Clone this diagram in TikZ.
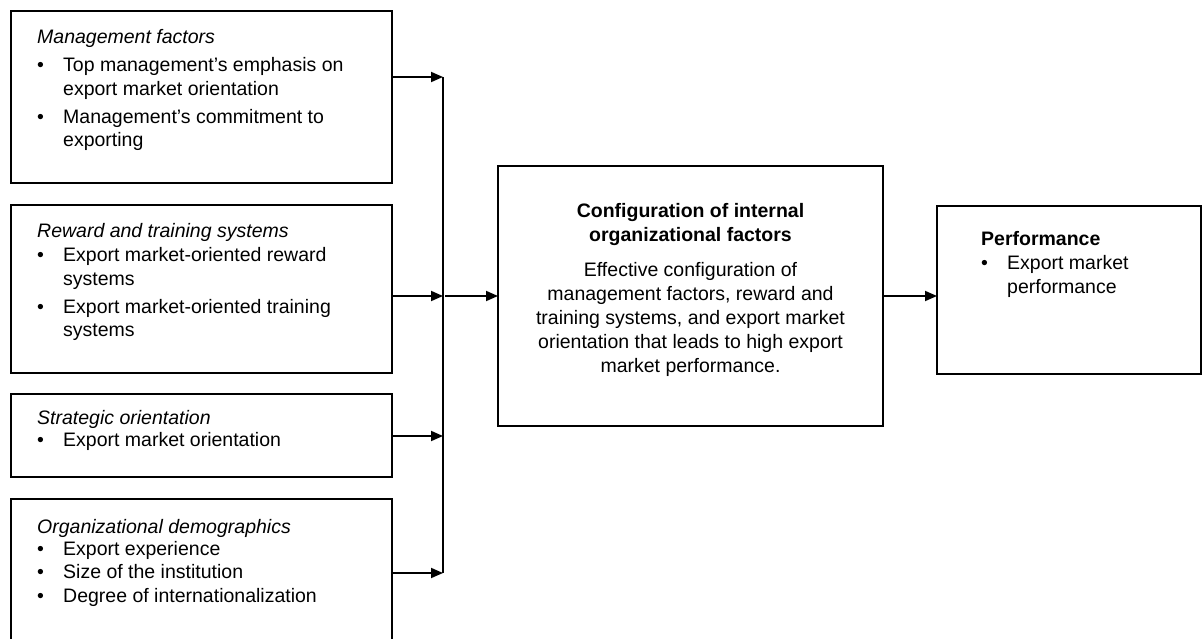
\documentclass[tikz,border=0pt]{standalone}
\usepackage{fontspec}
\setmainfont{Liberation Sans}
\usetikzlibrary{arrows.meta}
\newcommand{\mybul}{\makebox[26pt][l]{\textbullet}}
\newcommand{\myind}{\hspace*{26pt}}
\newcommand{\lbox}[1]{\begin{tabular}[t]{@{}l@{}}#1\end{tabular}}
\newcommand{\cbox}[1]{\begin{tabular}[t]{@{}c@{}}#1\end{tabular}}
\begin{document}
\begin{tikzpicture}[x=1pt,y=-1pt,
  box/.style={draw=black,line width=1.8pt,anchor=north west,inner sep=0pt,outer sep=0pt},
  txt/.style={anchor=base west,inner sep=0pt,font=\fontsize{19.5}{23.5}\selectfont},
  ctxt/.style={anchor=base,inner sep=0pt,font=\fontsize{19.5}{24}\selectfont},
  arr/.style={line width=1.8pt,-{Triangle[length=12pt,width=10pt]}}]
\useasboundingbox (0,0) rectangle (1203,639);
\clip (0,0) rectangle (1203,639);
\fill[white] (0,0) rectangle (1203,639);

% left boxes
\node[box,minimum width=381pt,minimum height=172pt] (b1) at (11,11) {};
\node[box,minimum width=381pt,minimum height=168pt] (b2) at (11,205) {};
\node[box,minimum width=381pt,minimum height=83pt] (b3) at (11,394) {};
\node[box,minimum width=381pt,minimum height=200pt] (b4) at (11,499) {};

\node[txt] (t1) at (37,44) {\lbox{\textit{Management factors}\\[4.5pt]
  \mybul Top management’s emphasis on\\
  \myind export market orientation\\[4.5pt]
  \mybul Management’s commitment to\\
  \myind exporting}};
\node[txt] (t2) at (37,238) {\lbox{\textit{Reward and training systems}\\[0.5pt]
  \mybul Export market-oriented reward\\
  \myind systems\\[4.5pt]
  \mybul Export market-oriented training\\
  \myind systems}};
\node[txt] (t3) at (37,424) {\lbox{\textit{Strategic orientation}\\[-1.5pt]
  \mybul Export market orientation}};
\node[txt] (t4) at (37,533) {\lbox{\textit{Organizational demographics}\\[-1.5pt]
  \mybul Export experience\\
  \mybul Size of the institution\\
  \mybul Degree of internationalization}};

% centre box
\node[box,minimum width=385pt,minimum height=260pt] (c) at (498,166) {};
\node[ctxt] (ct) at (690.5,218) {\cbox{\textbf{Configuration of internal}\\
  \textbf{organizational factors}\\[11pt]
  Effective configuration of\\
  management factors, reward and\\
  training systems, and export market\\
  orientation that leads to high export\\
  market performance.}};

% performance box
\node[box,minimum width=264pt,minimum height=168pt] (p) at (937,206) {};
\node[txt] (pt) at (981,246) {\lbox{\textbf{Performance}\\[0.5pt]
  \mybul Export market\\
  \myind performance}};

% bus
\coordinate (j1) at (443,77);
\coordinate (j2) at (443,296);
\coordinate (j3) at (443,436);
\coordinate (j4) at (443,573);
\draw[line width=1.8pt] (j1) -- (j4);
\draw[arr] (b1.east |- j1) -- (j1);
\draw[arr] (b2.east |- j2) -- (j2);
\draw[arr] (b3.east |- j3) -- (j3);
\draw[arr] (b4.east |- j4) -- (j4);
\draw[arr] ([xshift=2pt]j2) -- (c.west |- j2);
\draw[arr] (c.east |- j2) -- (p.west |- j2);
\end{tikzpicture}
\end{document}
